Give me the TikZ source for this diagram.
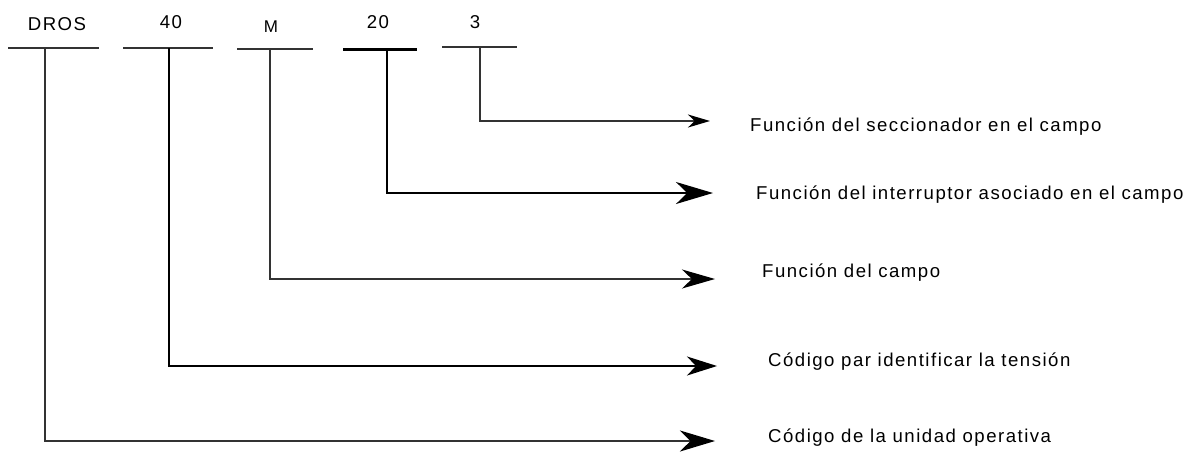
\documentclass[tikz,border=0pt]{standalone}
\usepackage{fontspec}
\setmainfont{Liberation Sans}[LetterSpace=8]
\usetikzlibrary{arrows.meta}
\begin{document}
\begin{tikzpicture}[x=1pt,y=-1pt,
  lbl/.style={inner sep=0pt,font=\fontsize{18.6}{22}\selectfont},
  bar/.style={line width=#1,draw=black!80},
  link/.style={line width=1.4pt,draw=black!80},
  tip/.style 2 args={-{Stealth[length=#1pt,width=#2pt,inset=0.3*#1pt,color=black]}}
]
\useasboundingbox (0,0) rectangle (1203,451);

% code segments above their bars
\node[lbl,anchor=base] (tDROS) at (57,30) {DROS};
\node[lbl,anchor=base] (t40)   at (171,28) {40};
\node[lbl,anchor=base,font=\fontsize{17}{20}\selectfont] (tM) at (271,32) {M};
\node[lbl,anchor=base] (t20)   at (378,28) {20};
\node[lbl,anchor=base] (t3)    at (475,28) {3};

% underlines
\draw[bar=2.6pt] (8,48) -- (99,48);
\draw[bar=2pt]   (123,47.5) -- (213,47.5);
\draw[bar=1.5pt] (237,49) -- (313,49);
\draw[bar=3pt,draw=black] (343,49) -- (417,49);
\draw[bar=2.4pt] (442,47) -- (517,47);

% where each connector leaves its bar
\coordinate (sDROS) at (45,48);
\coordinate (s40)   at (169,48);
\coordinate (sM)    at (270,49);
\coordinate (s20)   at (387,49);
\coordinate (s3)    at (480,47);

% arrow ends
\coordinate (eDROS) at (715,441);
\coordinate (e40)   at (717,366);
\coordinate (eM)    at (715,279);
\coordinate (e20)   at (713,193);
\coordinate (e3)    at (710,121);

% descriptions
\node[lbl,anchor=base west] (d3)    at (750,131) {Función del seccionador en el campo};
\node[lbl,anchor=base west] (d20)   at (756,199) {Función del interruptor asociado en el campo};
\node[lbl,anchor=base west] (dM)    at (762,277) {Función del campo};
\node[lbl,anchor=base west] (d40)   at (768,366) {Código par identificar la tensión};
\node[lbl,anchor=base west] (dDROS) at (768,442) {Código de la unidad operativa};

% connectors
\draw[link,tip={22}{13}] (s3) |- (e3);
\draw[link,draw=black,tip={37}{22}] (s20) |- (e20);
\draw[link,tip={33}{19}] (sM) |- (eM);
\draw[link,draw=black,tip={30}{19}] (s40) |- (e40);
\draw[link,tip={35}{21}] (sDROS) |- (eDROS);
\end{tikzpicture}
\end{document}
